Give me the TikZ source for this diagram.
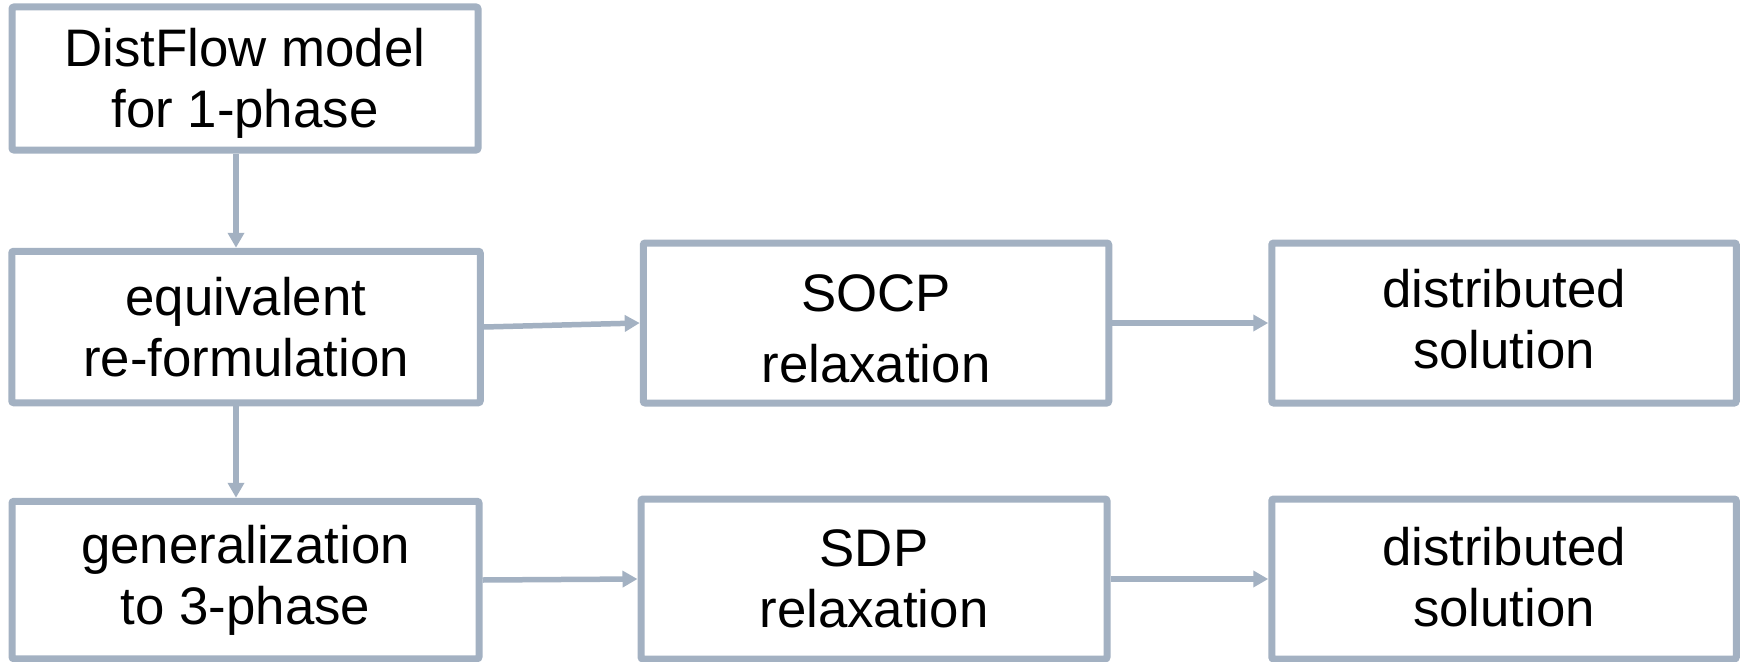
\documentclass[tikz,border=0pt]{standalone}
\usepackage{fontspec}
\setmainfont{Liberation Sans}
\usetikzlibrary{arrows.meta}
\definecolor{boxgray}{RGB}{163,177,194}
\begin{document}
\begin{tikzpicture}[x=1pt,y=-1pt,
  box/.style={draw=boxgray, line width=7pt, rounded corners=2pt, fill=white,
    align=center, inner sep=0pt, font=\fontsize{52.8}{61}\selectfont},
  flow/.style={draw=boxgray, line width=5.5pt, -{Triangle[length=15pt,width=16pt]}}]
\useasboundingbox (0,0) rectangle (1742,661);
\node[box, minimum width=466pt, minimum height=143pt] (A) at (245,78.5) {\rule{0pt}{48.5pt}DistFlow model\\for 1-phase};
\node[box, minimum width=468.5pt, minimum height=151.5pt] (B) at (246,327) {equivalent\\re-formulation};
\node[box, minimum width=467pt, minimum height=157.5pt] (C) at (245.5,580) {generalization\\to 3-phase};
\node[box, minimum width=465.5pt, minimum height=160pt] (D) at (876,323) {\rule{0pt}{48.5pt}SOCP\\[10pt]relaxation};
\node[box, minimum width=464.5pt, minimum height=160pt] (E) at (1504,323) {distributed\\solution\rule[-8pt]{0pt}{8pt}};
\node[box, minimum width=466pt, minimum height=160pt] (F) at (874,579) {SDP\\relaxation};
\node[box, minimum width=464.5pt, minimum height=160pt] (G) at (1504,579) {distributed\\solution\rule[-4pt]{0pt}{4pt}};
\draw[flow] ([xshift=-9pt]A.south) -- ([xshift=-9pt]A.south |- B.north);
\draw[flow] ([xshift=-10pt]B.south) -- ([xshift=-10pt]B.south |- C.north);
\draw[flow] (B.east) -- (D.west);
\draw[flow] (D.east) -- (E.west);
\draw[flow] (C.east) -- (F.west);
\draw[flow] (F.east) -- (G.west);
\end{tikzpicture}
\end{document}
